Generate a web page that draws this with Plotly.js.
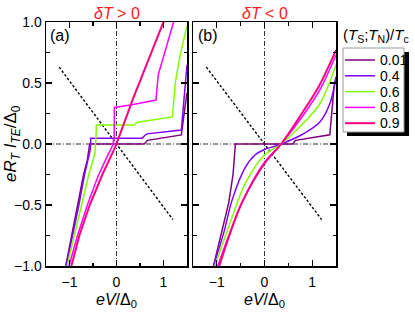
<!DOCTYPE html>
<html>
<head>
<meta charset="utf-8">
<script src="https://cdn.plot.ly/plotly-3.0.1.min.js"></script>
<style>html,body{margin:0;padding:0;background:#fff}#chart{width:415px;height:314px}</style>
</head>
<body>
<div id="chart"></div>
<script>
// ---- data ----
const tempLabels = ['0.01', '0.4', '0.6', '0.8', '0.9'];

// panel (a): deltaT > 0
const a001_x = [-1.08, -0.95, -0.82, -0.70, -0.62, -0.58, -0.57, 0.59, 0.62, 0.66, 1.38, 1.41, 1.45, 1.5];
const a001_y = [-1, -0.75, -0.5, -0.25, -0.13, -0.05, 0, 0, 0.015, 0.03, 0.074, 0.15, 0.28, 0.42];
const a04_x = [-1.07, -0.93, -0.80, -0.68, -0.60, -0.56, -0.55, -0.55, 0.55, 0.60, 0.65, 1.38, 1.41, 1.45, 1.5];
const a04_y = [-1, -0.75, -0.5, -0.25, -0.13, -0.05, 0, 0.047, 0.047, 0.07, 0.083, 0.115, 0.25, 0.45, 0.65];
const a06_x = [-1.05, -0.90, -0.75, -0.59, -0.46, -0.44, -0.43, -0.43, 0.38, 0.41, 0.45, 1.19, 1.21, 1.25, 1.35, 1.5];
const a06_y = [-1, -0.75, -0.5, -0.25, -0.08, 0, 0.1, 0.155, 0.155, 0.17, 0.178, 0.222, 0.33, 0.5, 0.72, 0.97];
const a08_x = [-1.01, -0.83, -0.62, -0.40, -0.22, -0.08, -0.05, -0.045, 0.3, 0.6, 0.84, 0.86, 0.89, 0.95, 1.23];
const a08_y = [-1, -0.75, -0.5, -0.27, -0.12, -0.01, 0.05, 0.30, 0.32, 0.34, 0.36, 0.45, 0.57, 0.65, 1.02];
const a09_x = [-0.96, -0.79, -0.57, -0.30, -0.02, 0.35, 1.02];
const a09_y = [-1, -0.75, -0.5, -0.25, -0.02, 0.37, 1.02];

// panel (b): deltaT < 0
const b001_x = [-1.07, -0.9, -0.75, -0.66, -0.62, -0.61, 0.59, 0.65, 1.37, 1.40, 1.43, 1.46, 1.5];
const b001_y = [-1, -0.72, -0.48, -0.25, -0.08, 0, 0, 0.03, 0.075, 0.2, 0.35, 0.47, 0.55];
const b04_x = [-1.07, -0.85, -0.68, -0.4, -0.2, 0, 0.2, 0.35, 0.8, 1.16, 1.37, 1.5];
const b04_y = [-1, -0.72, -0.46, -0.19, -0.09, -0.045, -0.02, 0, 0.08, 0.18, 0.33, 0.55];
const b06_x = [-1.04, -0.68, -0.4, 0, 0.35, 0.81, 1.16, 1.5];
const b06_y = [-1, -0.6, -0.32, -0.09, 0, 0.17, 0.33, 0.65];
const b08_x = [-0.98, -0.73, -0.45, 0.0, 0.35, 0.82, 1.17, 1.5];
const b08_y = [-1, -0.73, -0.46, -0.15, 0, 0.24, 0.45, 0.73];
const b09_x = [-0.95, -0.72, -0.46, 0.0, 0.35, 0.8, 1.15, 1.5];
const b09_y = [-1, -0.73, -0.47, -0.16, 0, 0.26, 0.48, 0.77];

// dotted guide line (same in both panels)
const diag_x = [-1.22, 1.2];
const diag_y = [0.63, -0.62];

// ---- styles ----
const colors = ['#800080', '#8000ff', '#80ff00', '#ff00ff', '#ff0080'];
const widths = [1.5, 1.5, 1.5, 1.5, 2];
const FONT = 'Liberation Sans, Arial, Helvetica, sans-serif';

const seriesA = [[a001_x, a001_y], [a04_x, a04_y], [a06_x, a06_y], [a08_x, a08_y], [a09_x, a09_y]];
const seriesB = [[b001_x, b001_y], [b04_x, b04_y], [b06_x, b06_y], [b08_x, b08_y], [b09_x, b09_y]];

const traces = [];
[['x', 'y', seriesA], ['x2', 'y2', seriesB]].forEach(([xa, ya, ser], pi) => {
  traces.push({x: diag_x, y: diag_y, xaxis: xa, yaxis: ya, mode: 'lines', showlegend: false,
    hoverinfo: 'skip', line: {color: 'black', width: 1.4, dash: '2.5px,2px'}});
  ser.forEach((s, i) => {
    const smooth = pi === 1 && i !== 0;
    traces.push({x: s[0], y: s[1], xaxis: xa, yaxis: ya, mode: 'lines', name: tempLabels[i],
      showlegend: false,
      line: {color: colors[i], width: widths[i], shape: smooth ? 'spline' : 'linear', smoothing: 1}});
  });
});

// pixel -> paper helpers (plot area 46..336 x 22..266)
const L = 46, R = 79, T = 22, B = 48, W = 415, H = 314;
const pw = W - L - R, ph = H - T - B;
const px = v => (v - L) / pw;
const py = v => (H - B - v) / ph;

const axisCommon = {
  showline: true, linecolor: 'black', linewidth: 1.5, mirror: 'ticks',
  ticks: 'inside', ticklen: 6, tickwidth: 1.2, tickcolor: 'black',
  showgrid: false, zeroline: false,
  tickfont: {family: FONT, size: 14, color: 'black'}
};

const xTitle = {text: '<i>eV</i>/Δ<sub>0</sub>', font: {family: FONT, size: 16, color: 'black'}, standoff: 4};

const layout = {
  width: W, height: H,
  margin: {l: L, r: R, t: T, b: B, pad: 0},
  paper_bgcolor: 'white', plot_bgcolor: 'white',
  showlegend: false,
  xaxis: Object.assign({}, axisCommon, {domain: [0, (187 - L) / pw], range: [-1.5, 1.5],
    tick0: 0, dtick: 1, ticklabelstandoff: 3, anchor: 'y', title: xTitle,
    minor: {dtick: 0.5, ticks: 'inside', ticklen: 3.5, tickcolor: 'black', tickwidth: 1.2, showgrid: false}}),
  yaxis: Object.assign({}, axisCommon, {domain: [0, 1], range: [-1, 1], tick0: 0, dtick: 0.5,
    tickformat: '.1f', anchor: 'x',
    minor: {dtick: 0.25, ticks: 'inside', ticklen: 3.5, tickcolor: 'black', tickwidth: 1.2, showgrid: false}}),
  xaxis2: Object.assign({}, axisCommon, {domain: [(193 - L) / pw, 1], range: [-1.5, 1.5],
    tick0: 0, dtick: 1, ticklabelstandoff: 3, anchor: 'y2', title: xTitle,
    minor: {dtick: 0.5, ticks: 'inside', ticklen: 3.5, tickcolor: 'black', tickwidth: 1.2, showgrid: false}}),
  yaxis2: Object.assign({}, axisCommon, {domain: [0, 1], range: [-1, 1], tick0: 0, dtick: 0.5,
    showticklabels: false, anchor: 'x2',
    minor: {dtick: 0.25, ticks: 'inside', ticklen: 3.5, tickcolor: 'black', tickwidth: 1.2, showgrid: false}}),
  shapes: [],
  annotations: []
};

// zero reference lines (dash-dot)
[['x', 'y'], ['x2', 'y2']].forEach(([xa, ya]) => {
  layout.shapes.push({type: 'line', xref: xa, yref: ya, x0: 0, x1: 0, y0: -1, y1: 1, layer: 'below',
    line: {color: '#333', width: 1, dash: '5px,2px,1px,2px'}});
  layout.shapes.push({type: 'line', xref: xa, yref: ya, x0: -1.5, x1: 1.5, y0: 0, y1: 0, layer: 'below',
    line: {color: '#333', width: 1, dash: '5px,2px,1px,2px'}});
});

// legend (drawn by hand): shadow, box, samples
layout.shapes.push({type: 'rect', xref: 'paper', yref: 'paper', x0: px(347), x1: px(409), y0: py(136), y1: py(52),
  fillcolor: 'black', line: {width: 0}});
layout.shapes.push({type: 'rect', xref: 'paper', yref: 'paper', x0: px(343), x1: px(404), y0: py(132), y1: py(48),
  fillcolor: 'white', line: {color: '#999', width: 1}});
tempLabels.forEach((lab, i) => {
  const yy = 60 + 15.8 * i;
  layout.shapes.push({type: 'line', xref: 'paper', yref: 'paper', x0: px(345), x1: px(375), y0: py(yy), y1: py(yy),
    line: {color: colors[i], width: widths[i]}});
  layout.annotations.push({xref: 'paper', yref: 'paper', x: px(378), y: py(yy), xanchor: 'left', yanchor: 'middle',
    text: lab, showarrow: false, font: {family: FONT, size: 14, color: 'black'}});
});
layout.annotations.push({xref: 'paper', yref: 'paper', x: px(376), y: py(35), xanchor: 'center', yanchor: 'middle',
  text: '(<i>T</i><sub>S</sub>;<i>T</i><sub>N</sub>)/<i>T</i><sub>c</sub>', showarrow: false,
  font: {family: FONT, size: 15, color: 'black'}});

// panel titles
layout.annotations.push({xref: 'paper', yref: 'paper', x: px(116.5), y: py(13), xanchor: 'center', yanchor: 'middle',
  text: '<i>δT</i> &gt; 0', showarrow: false, font: {family: FONT, size: 16, color: '#ff1a1a'}});
layout.annotations.push({xref: 'paper', yref: 'paper', x: px(264.5), y: py(13), xanchor: 'center', yanchor: 'middle',
  text: '<i>δT</i> &lt; 0', showarrow: false, font: {family: FONT, size: 16, color: '#ff1a1a'}});
// panel letters
layout.annotations.push({xref: 'paper', yref: 'paper', x: px(48), y: py(35), xanchor: 'left', yanchor: 'middle',
  text: '(a)', showarrow: false, font: {family: FONT, size: 16, color: 'black'}});
layout.annotations.push({xref: 'paper', yref: 'paper', x: px(196), y: py(36), xanchor: 'left', yanchor: 'middle',
  text: '(b)', showarrow: false, font: {family: FONT, size: 16, color: 'black'}});
// y-axis title
layout.annotations.push({xref: 'paper', yref: 'paper', x: px(12), y: py(144), xanchor: 'center', yanchor: 'middle',
  textangle: -90, text: '<i>eR</i><sub><i>T</i></sub> <i>I</i><sub><i>TE</i></sub>/Δ<sub>0</sub>', showarrow: false,
  font: {family: FONT, size: 17, color: 'black'}});

Plotly.newPlot('chart', traces, layout, {staticPlot: true, displayModeBar: false});
</script>
</body>
</html>
